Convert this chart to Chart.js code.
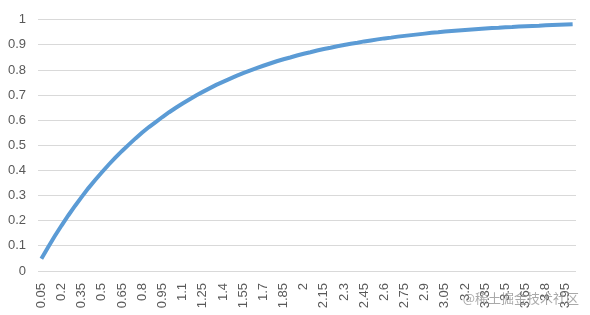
<!DOCTYPE html>
<html>
<head>
<meta charset="utf-8">
<script src="https://cdn.jsdelivr.net/npm/chart.js@4/dist/chart.umd.min.js"></script>
<style>
  html, body { margin: 0; padding: 0; background: #fff; }
  #wrap { width: 590px; height: 315px; position: relative; }
</style>
</head>
<body>
<div id="wrap"><canvas id="myChart"></canvas></div>
<script>
// x categories (step 0.05), Excel style labels
const xValues = [
  "0.05","0.1","0.15","0.2","0.25","0.3","0.35","0.4","0.45","0.5",
  "0.55","0.6","0.65","0.7","0.75","0.8","0.85","0.9","0.95","1",
  "1.05","1.1","1.15","1.2","1.25","1.3","1.35","1.4","1.45","1.5",
  "1.55","1.6","1.65","1.7","1.75","1.8","1.85","1.9","1.95","2",
  "2.05","2.1","2.15","2.2","2.25","2.3","2.35","2.4","2.45","2.5",
  "2.55","2.6","2.65","2.7","2.75","2.8","2.85","2.9","2.95","3",
  "3.05","3.1","3.15","3.2","3.25","3.3","3.35","3.4","3.45","3.5",
  "3.55","3.6","3.65","3.7","3.75","3.8","3.85","3.9","3.95","4"
];

// values
const yValues = [
  0.049, 0.095, 0.139, 0.181, 0.221, 0.259, 0.295, 0.330, 0.362, 0.393,
  0.423, 0.451, 0.478, 0.503, 0.528, 0.551, 0.573, 0.593, 0.613, 0.632,
  0.650, 0.667, 0.683, 0.699, 0.713, 0.727, 0.741, 0.753, 0.765, 0.777,
  0.788, 0.798, 0.808, 0.817, 0.826, 0.835, 0.843, 0.850, 0.858, 0.865,
  0.871, 0.878, 0.884, 0.889, 0.895, 0.900, 0.905, 0.909, 0.914, 0.918,
  0.922, 0.926, 0.929, 0.933, 0.936, 0.939, 0.942, 0.945, 0.948, 0.950,
  0.953, 0.955, 0.957, 0.959, 0.961, 0.963, 0.965, 0.967, 0.968, 0.970,
  0.971, 0.973, 0.974, 0.975, 0.976, 0.978, 0.979, 0.980, 0.981, 0.982
];

const yTicks = [0, 0.1, 0.2, 0.3, 0.4, 0.5, 0.6, 0.7, 0.8, 0.9, 1];
const watermark = "@稀土掘金技术社区";

const fontFamily = "'Liberation Sans', 'Noto Sans', sans-serif";

const watermarkPlugin = {
  id: "watermark",
  afterDraw(chart) {
    const ctx = chart.ctx;
    ctx.save();
    ctx.font = "13px 'Noto Sans CJK SC', sans-serif";
    ctx.textAlign = "right";
    ctx.textBaseline = "middle";
    ctx.fillStyle = "rgba(140,140,140,0.75)";
    ctx.fillText(watermark, 579, 298);
    ctx.restore();
  }
};

new Chart("myChart", {
  type: "line",
  data: {
    labels: xValues,
    datasets: [{
      data: yValues,
      borderColor: "#5B9BD5",
      borderWidth: 4,
      pointRadius: 0,
      tension: 0,
      fill: false
    }]
  },
  options: {
    responsive: true,
    maintainAspectRatio: false,
    animation: false,
    layout: { padding: { top: 15, right: 14, left: 0, bottom: 0 } },
    plugins: {
      legend: { display: false },
      tooltip: { enabled: false }
    },
    scales: {
      x: {
        offset: true,
        grid: { display: false },
        border: { display: false },
        ticks: {
          autoSkip: false,
          maxRotation: 90,
          minRotation: 90,
          padding: 4,
          color: "#595959",
          font: { family: fontFamily, size: 13 },
          callback: function (val, i) { return i % 3 === 0 ? xValues[i] : null; }
        },
        afterFit(scale) { scale.height = 44; }
      },
      y: {
        min: 0,
        max: 1,
        afterBuildTicks(scale) { scale.ticks = yTicks.map(v => ({ value: v })); },
        grid: { color: "#D9D9D9", lineWidth: 1, drawTicks: false },
        border: { display: false },
        ticks: {
          padding: 12,
          color: "#595959",
          font: { family: fontFamily, size: 13 },
          callback: v => String(Math.round(v * 10) / 10)
        },
        afterFit(scale) { scale.width = 38; }
      }
    }
  },
  plugins: [watermarkPlugin]
});
</script>
</body>
</html>
